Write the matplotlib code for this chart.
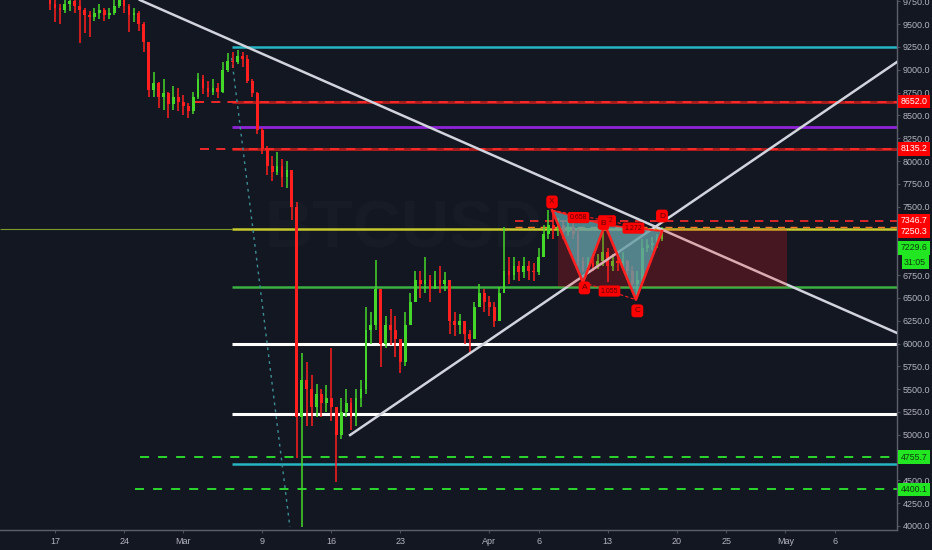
import numpy as np
import matplotlib.pyplot as plt
import matplotlib.transforms as mtransforms
from matplotlib.patches import Polygon, Rectangle

plt.rcParams['font.family'] = ['Liberation Sans', 'DejaVu Sans']

# --- dados (candles de 12h, dia 0 = 1 de fevereiro) ---
abertura_inicial = 10150
fechamento = [
    10200, 10250, 10320, 10280, 10150, 10250, 10180, 10050, 9950, 9850,
    9720, 9680, 9650, 9720, 9750, 9700, 9650, 9600, 9580, 9620,
    9650, 9600, 9620, 9700, 9780, 9700, 9600, 9620, 9500, 9300,
    8780, 8850, 8700, 8750, 8620, 8700, 8650, 8600, 8550, 8700,
    8900, 8800, 8760, 8800, 8760, 9000, 9100, 9080, 9150, 9120,
    8880, 8750, 8340, 8130, 7950, 7880, 7950, 7830, 7900, 7500,
    5200, 5600, 5500, 5300, 5450, 5350, 5400, 5300, 5000, 5250,
    5350, 5200, 5400, 5500, 6150, 6200, 6600, 6000, 6200, 6150,
    6050, 5800, 6200, 6450, 6700, 6650, 6700, 6600, 6700, 6650,
    6700, 6250, 6200, 6250, 6100, 6050, 6400, 6550, 6450, 6400,
    6250, 6550, 6800, 6750, 6850, 6780, 6850, 6800, 6780, 6950,
    7200, 7300, 7250, 7300, 7220, 7280, 7200, 6900, 6800, 6880,
    6850, 6900, 7000, 6850, 6900, 6880, 6900, 6800, 6650, 6700,
    7050, 7080, 7100, 7150, 7230,
]
maximas = [
    10300, 10330, 10400, 10350, 10300, 10320, 10280, 10200, 10080, 9960,
    9860, 9800, 9720, 9800, 9820, 9780, 9800, 9680, 9640, 9680,
    9720, 9680, 9680, 9800, 9850, 9800, 9720, 9680, 9640, 9520,
    9300, 8980, 8870, 8900, 8760, 8820, 8800, 8720, 8640, 8760,
    8960, 8940, 8880, 8900, 8850, 9080, 9180, 9200, 9220, 9200,
    9160, 8900, 8760, 8360, 8160, 8050, 8100, 8020, 8000, 7900,
    7550, 5900, 5800, 5650, 5560, 5500, 5550, 5950, 5300, 5400,
    5500, 5400, 5500, 5600, 6400, 6350, 6915, 6600, 6300, 6380,
    6300, 6050, 6350, 6550, 6800, 6800, 6950, 6750, 6800, 6850,
    6780, 6700, 6350, 6320, 6250, 6150, 6450, 6650, 6600, 6520,
    6450, 6620, 7280, 6950, 6950, 6900, 6950, 6900, 6880, 7050,
    7300, 7460, 7420, 7380, 7350, 7380, 7320, 7250, 6950, 6950,
    6950, 6980, 7250, 7050, 6980, 6960, 7000, 6920, 6850, 6800,
    7150, 7150, 7170, 7200, 7280,
]
minimas = [
    10100, 10150, 10200, 10180, 10080, 10100, 10080, 9980, 9880, 9780,
    9650, 9520, 9500, 9620, 9640, 9620, 9290, 9400, 9360, 9540,
    9560, 9540, 9560, 9600, 9680, 9620, 9410, 9520, 9420, 9200,
    8700, 8700, 8580, 8560, 8470, 8560, 8550, 8500, 8470, 8520,
    8680, 8730, 8700, 8720, 8690, 8750, 8980, 9020, 9060, 9030,
    8850, 8700, 8300, 8080, 7850, 7780, 7850, 7720, 7700, 7350,
    4750, 3990, 5100, 5100, 5200, 5200, 5250, 5150, 4480, 4950,
    5200, 5050, 5100, 5300, 5450, 6000, 6150, 5740, 5950, 5980,
    5850, 5680, 5750, 6200, 6450, 6500, 6550, 6450, 6600, 6550,
    6580, 6100, 6080, 6100, 6000, 5900, 6050, 6400, 6350, 6300,
    6180, 6250, 6550, 6650, 6700, 6680, 6720, 6700, 6680, 6750,
    6950, 7150, 7150, 7180, 7150, 7180, 7150, 6850, 6780, 6790,
    6800, 6820, 6850, 6675, 6800, 6800, 6820, 6700, 6600, 6500,
    6680, 7000, 7020, 7050, 7120,
]

datas_ticks = [16, 23, 29, 37, 44, 51, 60, 65, 72, 79, 84, 90, 95]
datas_rotulos = ['17', '24', 'Mar', '9', '16', '23', 'Apr', '6', '13', '20', '25', 'May', '6']
precos_ticks = [4000 + 250 * k for k in range(24)]

# linhas horizontais
ciano_precos = [9250, 4680]
vermelho_tracejado_precos = [8652.0, 8135.2]
vermelho_tracejado_inicio = [30.2, 30.7]
roxo_preco = 8370
alvo_tracejado = 7346.7
amarelo_preco = 7250
verde_preco = 6620
branco_precos = [6000, 5230]
verde_tracejado_precos = [4755.7, 4400.1]
verde_tracejado_inicio = [24.6, 24.1]
inicio_niveis = 33.9

# linhas de tendencia (dia, preco)
tendencia_baixa = ([24.6, 101.3], [9765, 6116])
tendencia_alta = ([45.9, 101.3], [4997, 9085])
linha_pontilhada = ([33.9, 39.8], [9130, 3990])

# padrao XABCD
padrao_letras = ['X', 'A', 'B', 'C', 'D']
padrao_dias = [66.36, 69.5, 71.72, 74.86, 77.5]
padrao_precos = [7460, 6670, 7300, 6480, 7230]
razoes = ['0.658', '0.72', '1.055', '1.272']
razoes_pares = [(0, 2), (0, 4), (1, 3), (2, 4)]

# caixa de posicao
caixa_dias = [66.96, 90.16]
caixa_precos = [6620, 7250]

# rotulos do eixo de precos
rotulos_vermelhos = [8652.0, 8135.2, 7346.7, 7250.3]
rotulos_verdes = [7229.6, 4755.7, 4400.1]
contagem = '31:05'

fundo = '#131722'
texto_eixo = '#b2b5be'

fig = plt.figure(figsize=(9.32, 5.5), dpi=100, facecolor=fundo)
ax = fig.add_axes([0, 20 / 550, 897 / 932, 530 / 550])
ax.set_facecolor(fundo)
ax.set_xlim(10.43, 101.31)
ax.set_ylim(3956, 9765)

# --- marca d'agua ---
ax.text(51.3, 7244, 'BTCUSD', fontsize=48, fontweight='bold', color='#171b26',
        ha='center', va='center', zorder=0)

# --- candles ---
fechamento = np.array(fechamento, dtype=float)
aberturas = np.concatenate([[abertura_inicial], fechamento[:-1]])
maximas = np.maximum(np.array(maximas, dtype=float), np.maximum(aberturas, fechamento))
minimas = np.minimum(np.array(minimas, dtype=float), np.minimum(aberturas, fechamento))
dias = 10.5 + 0.5 * np.arange(len(fechamento))
cores = np.where(fechamento >= aberturas, '#45d62a', '#ff1f1f')
ax.vlines(dias, minimas, maximas, colors=cores, lw=1.1, zorder=3)
alturas = np.maximum(np.abs(fechamento - aberturas), 12)
ax.bar(dias, alturas, bottom=np.minimum(aberturas, fechamento), width=0.28,
       color=cores, zorder=3)

# --- niveis ---
xmax = 101.31
for p in ciano_precos:
    ax.hlines(p, inicio_niveis, xmax, color='#26b5c3', lw=1.8, zorder=2)
for p, x0 in zip(vermelho_tracejado_precos, vermelho_tracejado_inicio):
    ax.hlines(p, inicio_niveis, xmax, color='#a51c1c', lw=2.2, zorder=2)
    ax.hlines(p, x0, xmax, color='#ff2a2a', lw=1.3, ls=(0, (5, 4)), zorder=2)
ax.hlines(roxo_preco, inicio_niveis, xmax, color='#8e24d8', lw=2, zorder=2)
ax.hlines(alvo_tracejado, 62.6, xmax, color='#ff2a2a', lw=1.2, ls=(0, (5, 4)), zorder=2)
ax.hlines(amarelo_preco, 10.43, inicio_niveis, color='#7c9a2a', lw=0.8, zorder=2)
ax.hlines(amarelo_preco, inicio_niveis, xmax, color='#c6c92c', lw=1.8, zorder=2)
ax.hlines(amarelo_preco + 25, 62.6, xmax, color='#ff7a2a', lw=1.0, ls=(0, (5, 4)), zorder=2)
ax.hlines(verde_preco, inicio_niveis, xmax, color='#3cb043', lw=1.8, zorder=2)
for p in branco_precos:
    ax.hlines(p, inicio_niveis, xmax, color='#ffffff', lw=2.2, zorder=2)
for p, x0 in zip(verde_tracejado_precos, verde_tracejado_inicio):
    ax.hlines(p, x0, xmax, color='#2ee62e', lw=1.3, ls=(0, (5, 5)), zorder=2)

# --- tendencias ---
ax.plot(*tendencia_baixa, color='#d1d4dc', lw=1.8, zorder=4)
ax.plot(*tendencia_alta, color='#d1d4dc', lw=1.8, zorder=4)
ax.plot(*linha_pontilhada, color='#3e8e96', lw=1.0, ls=(0, (2, 3)), zorder=2)

# --- caixa de posicao ---
ax.add_patch(Rectangle((caixa_dias[0], caixa_precos[0]), caixa_dias[1] - caixa_dias[0],
                       caixa_precos[1] - caixa_precos[0], fc='#ff1a1a', alpha=0.22,
                       ec='none', zorder=5))

# --- padrao XABCD ---
pts = list(zip(padrao_dias, padrao_precos))
for tri in (pts[0:3], pts[2:5]):
    ax.add_patch(Polygon(tri, closed=True, fc='#5aa7ae', alpha=0.75, ec='#ff2020',
                         lw=1.2, zorder=6))
ax.plot(padrao_dias, padrao_precos, color='#ff2020', lw=1.8, zorder=7)
for (i, j), r in zip(razoes_pares, razoes):
    ax.plot([padrao_dias[i], padrao_dias[j]], [padrao_precos[i], padrao_precos[j]],
            color='#ff2020', lw=0.8, ls=(0, (3, 2)), zorder=7)
    ax.text((padrao_dias[i] + padrao_dias[j]) / 2, (padrao_precos[i] + padrao_precos[j]) / 2,
            r, fontsize=5, color='#5c0000', ha='center', va='center', zorder=8,
            bbox=dict(boxstyle='round,pad=0.3', fc='#ff0000', ec='none'))
deslocamentos = [(0, 6), (1, -4), (-1, 1), (1, -8), (0, 11)]
for letra, (dx, dy), xy in zip(padrao_letras, deslocamentos, pts):
    ax.annotate(letra, xy, xytext=(dx, dy), textcoords='offset points', fontsize=6,
                color='#5c0000', ha='center', va='center', zorder=9,
                bbox=dict(boxstyle='round,pad=0.35', fc='#ff0000', ec='none'))

# --- eixos ---
ax.yaxis.tick_right()
ax.set_yticks(precos_ticks)
ax.set_yticklabels([f'{p:.1f}' for p in precos_ticks])
ax.set_xticks(datas_ticks)
ax.set_xticklabels(datas_rotulos)
ax.tick_params(axis='both', colors='#4a4e5a', labelcolor=texto_eixo, labelsize=6.5,
               length=2, pad=3)
ax.tick_params(axis='y', pad=2)
for s in ('top', 'left'):
    ax.spines[s].set_visible(False)
for s in ('right', 'bottom'):
    ax.spines[s].set_color('#5d606b')
    ax.spines[s].set_linewidth(1.0)

# --- rotulos de preco (posicao na tela em y; os de 7229.6 ficam deslocados) ---
trans = mtransforms.blended_transform_factory(ax.transAxes, ax.transData)
pos_vermelhos = [8652.0, 8135.2, 7346.7, 7228]
pos_verdes = [7047, 4755.7, 4400.1]
for p, y in zip(rotulos_vermelhos, pos_vermelhos):
    ax.text(1.004, y, f'{p:.1f}', transform=trans, fontsize=6.3, color='white',
            ha='left', va='center', clip_on=False, zorder=10,
            bbox=dict(boxstyle='square,pad=0.28', fc='#ff0000', ec='none'))
for p, y in zip(rotulos_verdes, pos_verdes):
    ax.text(1.004, y, f'{p:.1f}', transform=trans, fontsize=6.3, color='#0d3b0d',
            ha='left', va='center', clip_on=False, zorder=10,
            bbox=dict(boxstyle='square,pad=0.28', fc='#22e622', ec='none'))
ax.text(1.008, 6893, contagem, transform=trans, fontsize=6.3,
        color='#0d3b0d', ha='left', va='center', clip_on=False, zorder=10,
        bbox=dict(boxstyle='square,pad=0.28', fc='#22e622', ec='none'))

fig.savefig('out.png', dpi=100, facecolor=fundo)
